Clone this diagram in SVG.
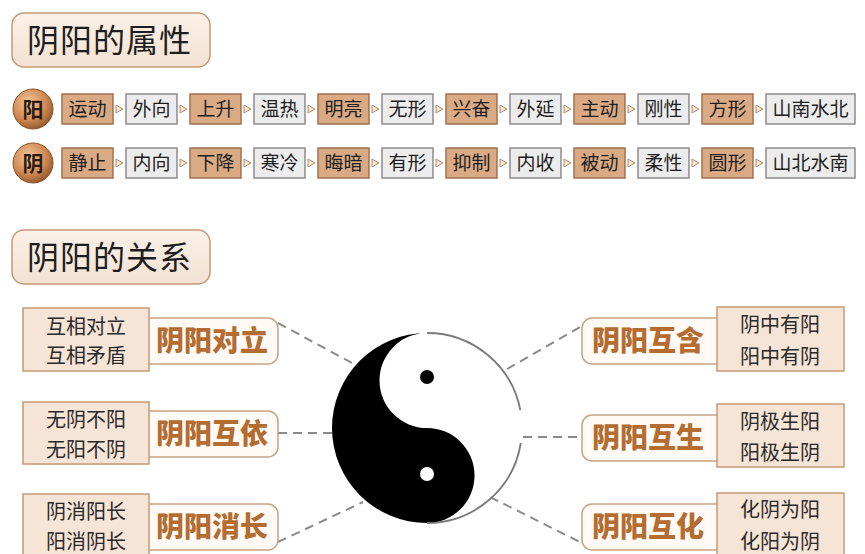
<svg xmlns="http://www.w3.org/2000/svg" width="865" height="554" viewBox="0 0 865 554">
<defs>
<radialGradient id="ball" cx="40%" cy="35%" r="70%">
<stop offset="0" stop-color="#f3c9a0"/>
<stop offset="0.6" stop-color="#d08a55"/>
<stop offset="1" stop-color="#8f5428"/>
</radialGradient>
<linearGradient id="hdr" x1="0" y1="0" x2="0" y2="1">
<stop offset="0" stop-color="#fbf1e8"/>
<stop offset="1" stop-color="#f3e1d2"/>
</linearGradient>
<polygon id="tri" points="0,-4 7,0 0,4" fill="#f3e6da" stroke="#b48a68" stroke-width="1"/>
</defs>
<style>
text{font-family:"Noto Sans CJK SC","Noto Sans",sans-serif}
.hdr{fill:url(#hdr);stroke:#c49a76;stroke-width:1.5}
.ht{font-size:32px;fill:#1e1e1e;letter-spacing:1px}
.tan{fill:#d9aa84;stroke:#9e7250;stroke-width:1.5}
.gry{fill:#ececec;stroke:#8c8c8c;stroke-width:1.5}
.bt{font-size:19px;fill:#1e1e1e;text-anchor:middle}
.bl{fill:url(#ball);stroke:#8f5428;stroke-width:1}
.blt{font-size:21px;font-weight:700;fill:#2a1a10;text-anchor:middle}
.tb{fill:#f6e5d6;stroke:#c49a76;stroke-width:1.5}
.tt{font-size:20px;fill:#2a2a2a;text-anchor:middle}
.ti{fill:#fffaf6;stroke:#c7a283;stroke-width:1.5}
.tl{font-size:28px;font-weight:900;fill:#b46c30;text-anchor:middle}
.dash{stroke:#8a8a8a;stroke-width:2;stroke-dasharray:9 6;fill:none}
</style>
<rect width="865" height="554" fill="#ffffff"/>

<g id="header-attr">
<rect class="hdr" x="12" y="13" width="198" height="54" rx="12"/>
<text class="ht" x="27" y="52">阴阳的属性</text>
</g>

<g id="row-yang">
<circle class="bl" cx="33" cy="109" r="20"/>
<text class="blt" x="33" y="117">阳</text>
<rect class="tan" x="62" y="94" width="51" height="30"/><text class="bt" x="87.5" y="116">运动</text>
<use href="#tri" x="116" y="109"/>
<rect class="gry" x="126" y="94" width="51" height="30"/><text class="bt" x="151.5" y="116">外向</text>
<use href="#tri" x="180" y="109"/>
<rect class="tan" x="190" y="94" width="51" height="30"/><text class="bt" x="215.5" y="116">上升</text>
<use href="#tri" x="244" y="109"/>
<rect class="gry" x="254" y="94" width="51" height="30"/><text class="bt" x="279.5" y="116">温热</text>
<use href="#tri" x="308" y="109"/>
<rect class="tan" x="318" y="94" width="51" height="30"/><text class="bt" x="343.5" y="116">明亮</text>
<use href="#tri" x="372" y="109"/>
<rect class="gry" x="382" y="94" width="51" height="30"/><text class="bt" x="407.5" y="116">无形</text>
<use href="#tri" x="436" y="109"/>
<rect class="tan" x="446" y="94" width="51" height="30"/><text class="bt" x="471.5" y="116">兴奋</text>
<use href="#tri" x="500" y="109"/>
<rect class="gry" x="510" y="94" width="51" height="30"/><text class="bt" x="535.5" y="116">外延</text>
<use href="#tri" x="564" y="109"/>
<rect class="tan" x="574" y="94" width="51" height="30"/><text class="bt" x="599.5" y="116">主动</text>
<use href="#tri" x="628" y="109"/>
<rect class="gry" x="638" y="94" width="51" height="30"/><text class="bt" x="663.5" y="116">刚性</text>
<use href="#tri" x="692" y="109"/>
<rect class="tan" x="702" y="94" width="51" height="30"/><text class="bt" x="727.5" y="116">方形</text>
<use href="#tri" x="756" y="109"/>
<rect class="gry" x="766" y="94" width="89" height="30"/><text class="bt" x="810.5" y="116">山南水北</text>
</g>

<g id="row-yin">
<circle class="bl" cx="33" cy="163" r="20"/>
<text class="blt" x="33" y="171">阴</text>
<rect class="tan" x="62" y="148" width="51" height="30"/><text class="bt" x="87.5" y="170">静止</text>
<use href="#tri" x="116" y="163"/>
<rect class="gry" x="126" y="148" width="51" height="30"/><text class="bt" x="151.5" y="170">内向</text>
<use href="#tri" x="180" y="163"/>
<rect class="tan" x="190" y="148" width="51" height="30"/><text class="bt" x="215.5" y="170">下降</text>
<use href="#tri" x="244" y="163"/>
<rect class="gry" x="254" y="148" width="51" height="30"/><text class="bt" x="279.5" y="170">寒冷</text>
<use href="#tri" x="308" y="163"/>
<rect class="tan" x="318" y="148" width="51" height="30"/><text class="bt" x="343.5" y="170">晦暗</text>
<use href="#tri" x="372" y="163"/>
<rect class="gry" x="382" y="148" width="51" height="30"/><text class="bt" x="407.5" y="170">有形</text>
<use href="#tri" x="436" y="163"/>
<rect class="tan" x="446" y="148" width="51" height="30"/><text class="bt" x="471.5" y="170">抑制</text>
<use href="#tri" x="500" y="163"/>
<rect class="gry" x="510" y="148" width="51" height="30"/><text class="bt" x="535.5" y="170">内收</text>
<use href="#tri" x="564" y="163"/>
<rect class="tan" x="574" y="148" width="51" height="30"/><text class="bt" x="599.5" y="170">被动</text>
<use href="#tri" x="628" y="163"/>
<rect class="gry" x="638" y="148" width="51" height="30"/><text class="bt" x="663.5" y="170">柔性</text>
<use href="#tri" x="692" y="163"/>
<rect class="tan" x="702" y="148" width="51" height="30"/><text class="bt" x="727.5" y="170">圆形</text>
<use href="#tri" x="756" y="163"/>
<rect class="gry" x="766" y="148" width="89" height="30"/><text class="bt" x="810.5" y="170">山北水南</text>
</g>

<g id="header-rel">
<rect class="hdr" x="12" y="230" width="198" height="54" rx="12"/>
<text class="ht" x="27" y="269">阴阳的关系</text>
</g>

<g id="connectors">
<line class="dash" x1="278" y1="323" x2="352" y2="363"/>
<line class="dash" x1="278" y1="433" x2="333" y2="433"/>
<line class="dash" x1="278" y1="542" x2="363" y2="502"/>
<line class="dash" x1="507" y1="369" x2="582" y2="326"/>
<line class="dash" x1="523" y1="437" x2="582" y2="437"/>
<line class="dash" x1="490" y1="497" x2="582" y2="543"/>
</g>

<g id="taiji">
<circle cx="427" cy="428" r="95" fill="#ffffff"/>
<path d="M427,333 A95,95 0 0 0 427,523 A47.5,47.5 0 0 0 427,428 A47.5,47.5 0 0 1 427,333 Z" fill="#000000"/>
<path d="M427,333 A95,95 0 0 1 520.3,410 M520.8,443 A95,95 0 0 1 427,523" fill="none" stroke="#7a7a7a" stroke-width="1.8"/>
<circle cx="427" cy="377" r="7" fill="#000000"/>
<circle cx="427" cy="474" r="7" fill="#ffffff"/>
</g>

<g id="duili">
<rect class="ti" x="140" y="318" width="138" height="46" rx="10"/>
<rect class="tb" x="23" y="308" width="126" height="63"/>
<text class="tt" x="86" y="334">互相对立</text>
<text class="tt" x="86" y="363">互相矛盾</text>
<text class="tl" x="212" y="351">阴阳对立</text>
</g>

<g id="huyi">
<rect class="ti" x="140" y="411" width="138" height="46" rx="10"/>
<rect class="tb" x="23" y="402" width="126" height="62"/>
<text class="tt" x="86" y="427">无阴不阳</text>
<text class="tt" x="86" y="457">无阳不阴</text>
<text class="tl" x="212" y="444">阴阳互依</text>
</g>

<g id="xiaozhang">
<rect class="ti" x="140" y="504" width="138" height="46" rx="10"/>
<rect class="tb" x="23" y="494" width="126" height="64"/>
<text class="tt" x="86" y="519">阴消阳长</text>
<text class="tt" x="86" y="549">阳消阴长</text>
<text class="tl" x="212" y="537">阴阳消长</text>
</g>

<g id="hohan">
<rect class="ti" x="582" y="318" width="144" height="46" rx="10"/>
<rect class="tb" x="717" y="307" width="127" height="64"/>
<text class="tl" x="648" y="351">阴阳互含</text>
<text class="tt" x="780" y="332">阴中有阳</text>
<text class="tt" x="780" y="364">阳中有阴</text>
</g>

<g id="husheng">
<rect class="ti" x="582" y="415" width="144" height="46" rx="10"/>
<rect class="tb" x="717" y="404" width="127" height="63"/>
<text class="tl" x="648" y="448">阴阳互生</text>
<text class="tt" x="780" y="429">阴极生阳</text>
<text class="tt" x="780" y="460">阳极生阴</text>
</g>

<g id="huhua">
<rect class="ti" x="582" y="504" width="144" height="46" rx="10"/>
<rect class="tb" x="717" y="493" width="127" height="65"/>
<text class="tl" x="648" y="537">阴阳互化</text>
<text class="tt" x="780" y="517">化阴为阳</text>
<text class="tt" x="780" y="549">化阳为阴</text>
</g>
</svg>
